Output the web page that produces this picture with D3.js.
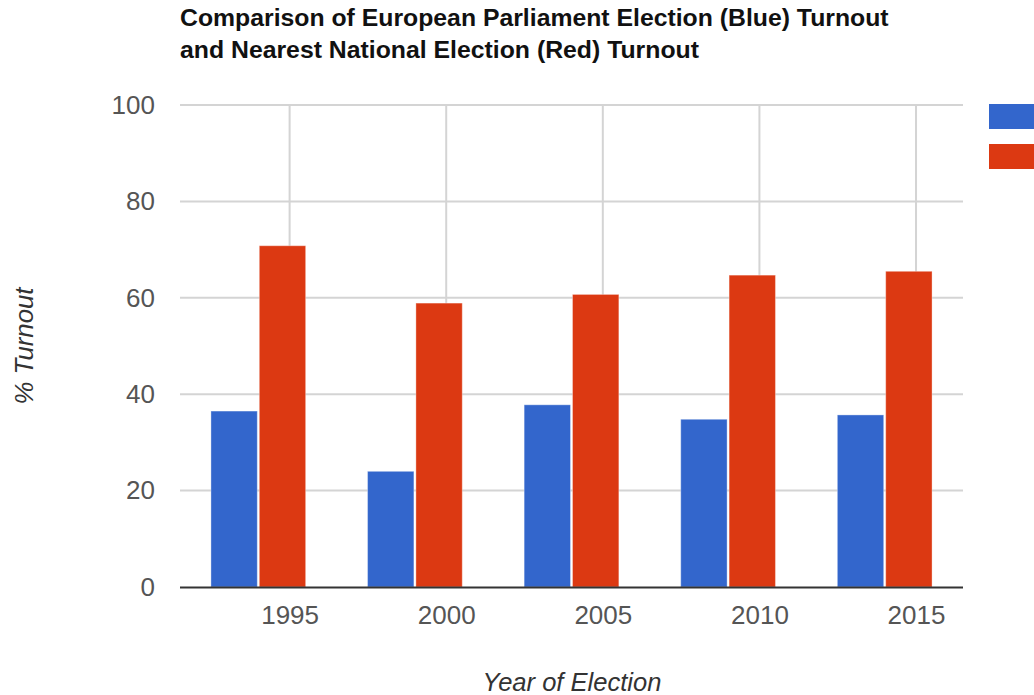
<!DOCTYPE html>
<html>
<head>
<meta charset="utf-8">
<script src="https://cdn.jsdelivr.net/npm/d3@7"></script>
<style>
  html, body { margin: 0; padding: 0; background: #fff; overflow: hidden; }
  svg { display: block; font-family: "Liberation Sans", Arial, sans-serif; }
</style>
</head>
<body>
<svg id="chart" width="1034" height="695"></svg>
<script>
// ---- Data ----
const electionYears = [1994, 1999, 2004, 2009, 2014];
const europeanTurnout = [36.5, 24, 37.8, 34.8, 35.7];
const nationalTurnout = [70.8, 58.9, 60.7, 64.7, 65.5];
const seriesNames = ["European Parliament Election", "Nearest National Election"];
const xTicks = [1995, 2000, 2005, 2010, 2015];
const yTicks = [0, 20, 40, 60, 80, 100];
const titleLines = [
  "Comparison of European Parliament Election (Blue) Turnout",
  "and Nearest National Election (Red) Turnout"
];
const xTitle = "Year of Election";
const yTitle = "% Turnout";

// ---- Layout ----
const W = 1034, H = 695;
const plot = { left: 180, right: 963, top: 105, bottom: 587 };
const colors = ["#3366cc", "#dc3912"];

const svg = d3.select("#chart");

const x = d3.scaleLinear().domain([1991.5, 2016.5]).range([plot.left, plot.right]);
const y = d3.scaleLinear().domain([0, 100]).range([plot.bottom, plot.top]);

function fitWidth(sel, target) {
  const w = sel.node().getComputedTextLength();
  const fs = parseFloat(sel.attr("font-size"));
  sel.attr("font-size", (fs * target / w).toFixed(2));
}

// Horizontal gridlines
svg.append("g")
  .selectAll("line")
  .data(yTicks.filter(d => d !== 0))
  .join("line")
  .attr("x1", plot.left).attr("x2", plot.right)
  .attr("y1", d => y(d)).attr("y2", d => y(d))
  .attr("stroke", "#d4d4d4").attr("stroke-width", 2);

// Vertical gridlines
svg.append("g")
  .selectAll("line")
  .data(xTicks)
  .join("line")
  .attr("x1", d => x(d)).attr("x2", d => x(d))
  .attr("y1", plot.top).attr("y2", plot.bottom)
  .attr("stroke", "#d4d4d4").attr("stroke-width", 2);

// Y axis labels via d3 axis
const yAxis = svg.append("g")
  .attr("transform", `translate(${plot.left - 25},0)`)
  .call(d3.axisLeft(y).tickValues(yTicks).tickSize(0).tickPadding(0));
yAxis.select(".domain").remove();
yAxis.selectAll("text")
  .attr("font-size", 26)
  .attr("font-family", "'Liberation Sans', Arial, sans-serif")
  .attr("fill", "#555");

// X axis labels via d3 axis
const xAxis = svg.append("g")
  .attr("transform", `translate(0,${plot.bottom + 19})`)
  .call(d3.axisBottom(x).tickValues(xTicks).tickFormat(d3.format("d")).tickSize(0).tickPadding(0));
xAxis.select(".domain").remove();
xAxis.selectAll("text")
  .attr("font-size", 26)
  .attr("font-family", "'Liberation Sans', Arial, sans-serif")
  .attr("fill", "#555");

// Bars
const yearUnit = x(1) - x(0);
const barW = yearUnit * 1.48;
const gap = 1;
const groups = electionYears.map((yr, i) => ({ yr, vals: [europeanTurnout[i], nationalTurnout[i]] }));

const g = svg.append("g");
groups.forEach(gr => {
  gr.vals.forEach((v, s) => {
    const cx = x(gr.yr);
    const x0 = s === 0 ? cx - gap - barW : cx + gap;
    g.append("rect")
      .attr("x", x0)
      .attr("y", y(v))
      .attr("width", barW)
      .attr("height", y(0) - y(v))
      .attr("fill", colors[s])
      .attr("stroke", "#ffffff")
      .attr("stroke-opacity", 0.35)
      .attr("stroke-width", 1)
      .append("title").text(`${seriesNames[s]} ${gr.yr}: ${v}%`);
  });
});

// Baseline
svg.append("line")
  .attr("x1", plot.left).attr("x2", plot.right)
  .attr("y1", y(0) + 0.5).attr("y2", y(0) + 0.5)
  .attr("stroke", "#333").attr("stroke-width", 2);

// Legend swatches (labels fall outside the visible area)
svg.append("g")
  .selectAll("rect")
  .data(seriesNames)
  .join("rect")
  .attr("x", 989)
  .attr("y", (d, i) => 104 + i * 40)
  .attr("width", 60)
  .attr("height", 25)
  .attr("fill", (d, i) => colors[i]);

// Title
const titleTargets = [709, 519];
titleLines.forEach((t, i) => {
  const tt = svg.append("text")
    .attr("x", 180)
    .attr("y", 26 + i * 32)
    .attr("font-size", 21)
    .attr("font-weight", "bold")
    .attr("fill", "#111")
    .text(t);
  fitWidth(tt, titleTargets[i]);
});

// X axis title
const xt = svg.append("text")
  .attr("x", 572)
  .attr("y", 691)
  .attr("text-anchor", "middle")
  .attr("font-size", 24)
  .attr("font-style", "italic")
  .attr("fill", "#333")
  .text(xTitle);
fitWidth(xt, 179);

// Y axis title
const yt = svg.append("text")
  .attr("transform", "translate(33,346) rotate(-90)")
  .attr("text-anchor", "middle")
  .attr("font-size", 24)
  .attr("font-style", "italic")
  .attr("fill", "#333")
  .text(yTitle);
fitWidth(yt, 117);
</script>
</body>
</html>
